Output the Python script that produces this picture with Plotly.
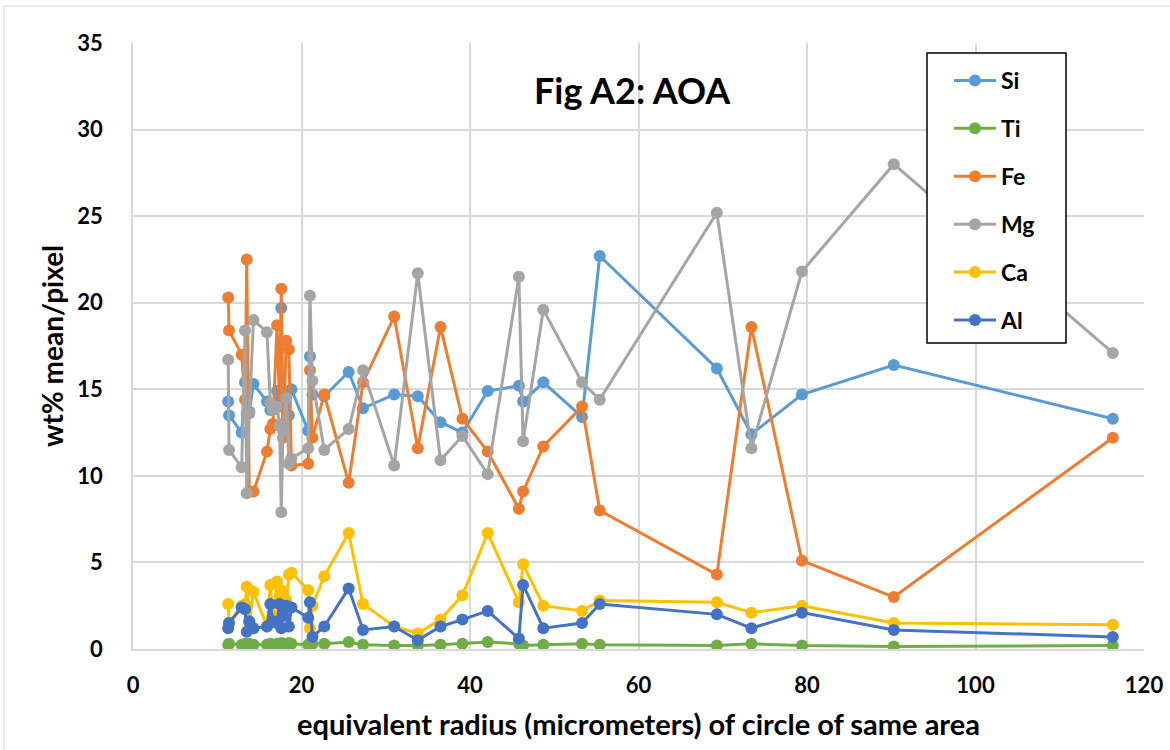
import plotly.graph_objects as go

radius = [11.3, 11.4, 12.9, 13.3, 13.5, 13.8, 14.3, 15.9, 16.3, 16.6, 17.1, 17.4, 17.6, 17.8,
          18.2, 18.5, 18.8, 20.8, 21.0, 21.3, 22.7, 25.6, 27.3, 31.0, 33.8, 36.5, 39.1, 42.1,
          45.8, 46.3, 48.7, 53.3, 55.4, 69.3, 73.4, 79.4, 90.3, 116.3]

si = [14.3, 13.5, 12.5, 15.4, 13.6, 13.7, 15.3, 14.3, 13.8, 14.0, 14.9, 14.5, 19.7, 13.0,
      14.8, 13.5, 15.0, 12.6, 16.9, 14.7, 14.6, 16.0, 13.9, 14.7, 14.6, 13.1, 12.5, 14.9,
      15.2, 14.3, 15.4, 13.4, 22.7, 16.2, 12.4, 14.7, 16.4, 13.3]
ti = [0.25, 0.3, 0.25, 0.3, 0.2, 0.3, 0.25, 0.25, 0.3, 0.25, 0.3, 0.25, 0.35, 0.3,
      0.3, 0.35, 0.3, 0.25, 0.3, 0.3, 0.3, 0.4, 0.25, 0.2, 0.2, 0.25, 0.3, 0.4,
      0.3, 0.2, 0.25, 0.3, 0.25, 0.2, 0.3, 0.2, 0.15, 0.2]
fe = [20.3, 18.4, 17.0, 14.4, 22.5, 9.1, 9.1, 11.4, 12.7, 13.0, 18.7, 14.0, 20.8, 12.2,
      17.8, 17.3, 10.6, 10.7, 16.1, 12.2, 14.7, 9.6, 15.4, 19.2, 11.6, 18.6, 13.3, 11.4,
      8.1, 9.1, 11.7, 14.0, 8.0, 4.3, 18.6, 5.1, 3.0, 12.2]
mg = [16.7, 11.5, 10.5, 18.4, 9.0, 13.6, 19.0, 18.3, 14.2, 13.8, 14.0, 12.9, 7.9, 12.6,
      14.5, 10.7, 11.0, 11.6, 20.4, 15.5, 11.5, 12.7, 16.1, 10.6, 21.7, 10.9, 12.3, 10.1,
      21.5, 12.0, 19.6, 15.4, 14.4, 25.2, 11.6, 21.8, 28.0, 17.1]
ca = [2.6, 1.5, 2.5, 2.6, 3.6, 1.5, 3.3, 1.3, 3.7, 1.8, 3.9, 2.0, 3.4, 3.2,
      2.8, 4.3, 4.4, 3.4, 1.2, 2.5, 4.2, 6.7, 2.6, 1.3, 0.9, 1.7, 3.1, 6.7,
      2.7, 4.9, 2.5, 2.2, 2.8, 2.7, 2.1, 2.5, 1.5, 1.4]
al = [1.2, 1.5, 2.4, 2.3, 1.0, 1.6, 1.2, 1.3, 2.6, 1.6, 1.5, 2.6, 1.2, 1.9,
      2.5, 1.3, 2.4, 1.8, 2.7, 0.7, 1.3, 3.5, 1.1, 1.3, 0.5, 1.3, 1.7, 2.2,
      0.6, 3.7, 1.2, 1.5, 2.6, 2.0, 1.2, 2.1, 1.1, 0.7]

series_names = ["Si", "Ti", "Fe", "Mg", "Ca", "Al"]
series_values = [si, ti, fe, mg, ca, al]
series_colors = ["#5B9BD5", "#70AD47", "#ED7D31", "#A5A5A5", "#FFC000", "#4472C4"]

x_ticks = [0, 20, 40, 60, 80, 100, 120]
y_ticks = [0, 5, 10, 15, 20, 25, 30, 35]

FONT = "Lato, 'Open Sans', sans-serif"

fig = go.Figure()
for i, (name, vals, col) in enumerate(zip(series_names, series_values, series_colors)):
    fig.add_trace(go.Scatter(
        x=radius, y=vals, name=name, mode="lines+markers",
        line=dict(color=col, width=3),
        marker=dict(color=col, size=12),
        legendgroup=f"g{i}",
    ))

# plot area in pixels: left 133, right 1144, top 43, bottom 649
L, R, T, B = 133, 1144, 43, 649
W, H = R - L, B - T
def px(xp):
    return (xp - L) / W
def py(yp):
    return (B - yp) / H

fig.update_layout(
    width=1170, height=750,
    margin=dict(l=L, r=1170 - R, t=T, b=750 - B, autoexpand=False),
    paper_bgcolor="white", plot_bgcolor="white",
    font=dict(family=FONT, color="black"),
    showlegend=True,
    legend=dict(
        x=px(949), y=py(59), xanchor="left", yanchor="top",
        font=dict(family=FONT, size=23, color="black", weight="bold"),
        tracegroupgap=15, traceorder="grouped",
        bgcolor="rgba(0,0,0,0)", borderwidth=0,
        itemwidth=42,
    ),
    xaxis=dict(
        range=[0, 120], tickvals=x_ticks, automargin=False,
        showgrid=True, gridcolor="#D9D9D9", gridwidth=1.5, zeroline=False,
        showline=True, linecolor="#D9D9D9", linewidth=1.5,
        ticks="", ticklabelstandoff=16, ticklabeloverflow="allow",
        tickfont=dict(family=FONT, size=22, color="black", weight="bold"),
        title=dict(text="equivalent radius (micrometers) of circle of same area",
                   font=dict(family=FONT, size=29, color="black", weight="bold"), standoff=18),
    ),
    yaxis=dict(
        range=[0, 35], tickvals=y_ticks, automargin=False,
        showgrid=True, gridcolor="#D9D9D9", gridwidth=1.5,
        zeroline=False, showline=True, linecolor="#D9D9D9", linewidth=1.5,
        ticks="", ticklabelstandoff=24,
        tickfont=dict(family=FONT, size=22, color="black", weight="bold"),
        title=dict(text="wt% mean/pixel",
                   font=dict(family=FONT, size=28, color="black", weight="bold"), standoff=6),
    ),
)

# legend frame (white, hides lines passing behind the legend)
fig.add_shape(type="rect", xref="paper", yref="paper",
              x0=px(927), x1=px(1066), y0=py(343), y1=py(53),
              line=dict(color="black", width=1.5), fillcolor="white", layer="above")

# chart outer border (left and top edges visible)
fig.add_shape(type="rect", xref="paper", yref="paper",
              x0=px(4), x1=px(1180), y0=py(760), y1=py(6),
              line=dict(color="#D9D9D9", width=1))

fig.add_annotation(text="Fig A2: AOA", xref="paper", yref="paper",
                   x=px(632), y=py(90), xanchor="center", yanchor="middle", showarrow=False,
                   font=dict(family=FONT, size=36, color="black", weight="bold"))

fig.write_html("out.html")
